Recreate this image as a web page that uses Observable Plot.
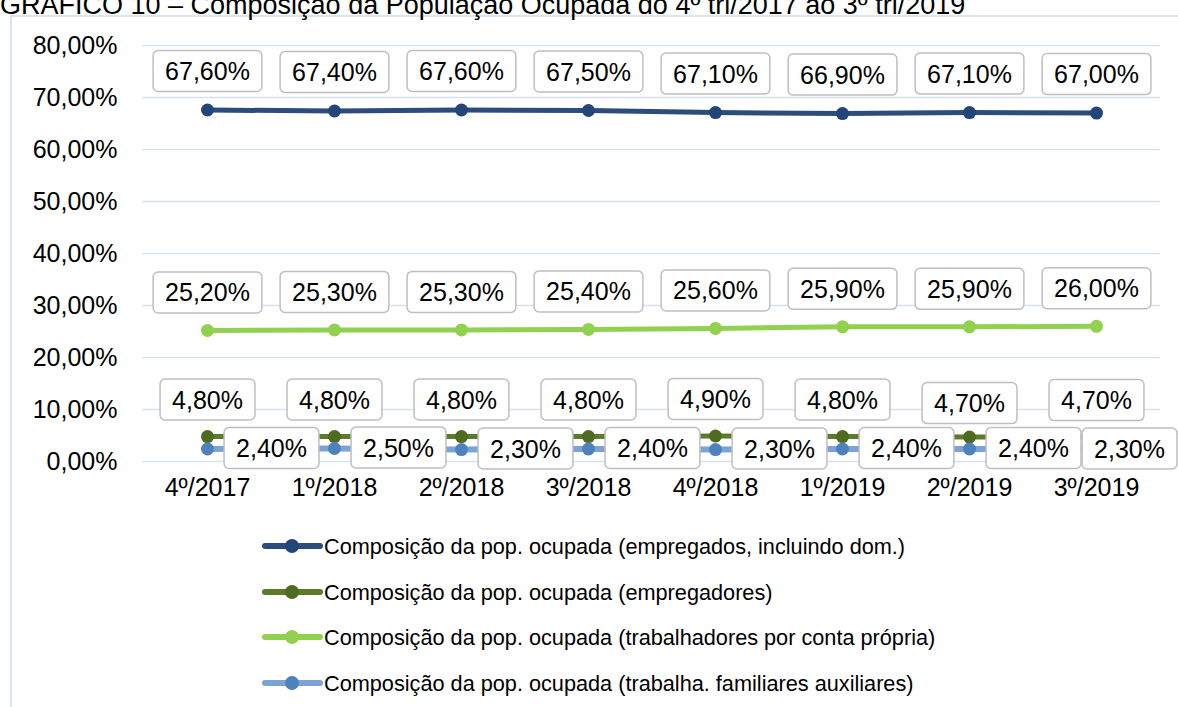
<!DOCTYPE html>
<html><head><meta charset="utf-8">
<script src="https://cdn.jsdelivr.net/npm/d3@7"></script>
<script src="https://cdn.jsdelivr.net/npm/@observablehq/plot@0.6"></script>
<style>
body{margin:0;background:#fff;}
#wrap{position:relative;width:1178px;height:707px;overflow:hidden;font-family:"Liberation Sans",Arial,sans-serif;background:#fff;}
#frame{position:absolute;left:10px;top:15px;width:1300px;height:800px;border:2px solid #DAE5F3;}
#title{position:absolute;left:0;top:-8.5px;font-size:27px;line-height:27px;white-space:nowrap;color:#000;}
#chart{position:absolute;left:0;top:0;}
#legend{position:absolute;left:0;top:520px;}
</style></head><body>
<div id="wrap">
<div id="frame"></div>
<div id="title">GRÁFICO 10 – Composição da População Ocupada do 4º tri/2017 ao 3º tri/2019</div>
<div id="chart"></div>
<div id="legend"></div>
</div>
<script>
const categories = ["4º/2017","1º/2018","2º/2018","3º/2018","4º/2018","1º/2019","2º/2019","3º/2019"];
const empregados   = [67.6, 67.4, 67.6, 67.5, 67.1, 66.9, 67.1, 67.0];
const empregadores = [4.8, 4.8, 4.8, 4.8, 4.9, 4.8, 4.7, 4.7];
const contaPropria = [25.2, 25.3, 25.3, 25.4, 25.6, 25.9, 25.9, 26.0];
const familiares   = [2.4, 2.5, 2.3, 2.4, 2.3, 2.4, 2.4, 2.3];
const seriesNames = [
  "Composição da pop. ocupada (empregados, incluindo dom.)",
  "Composição da pop. ocupada (empregadores)",
  "Composição da pop. ocupada (trabalhadores por conta própria)",
  "Composição da pop. ocupada (trabalha. familiares auxiliares)"
];
const lineColors = ["#2C4C7C", "#5B7A2A", "#92D050", "#7CA3D6"];
const dotColors  = ["#22467A", "#4E6B1F", "#92D050", "#4F81BD"];
const yTicks = [0, 10, 20, 30, 40, 50, 60, 70, 80];

const fmt = v => d3.format(".2f")(v).replace(".", ",") + "%";
const rows = (vals, k) => categories.map((c, i) => ({cat: c, value: vals[i], s: k, i}));

const dEmp = rows(empregados, 0), dEmpr = rows(empregadores, 1), dConta = rows(contaPropria, 2), dFam = rows(familiares, 3);
const allSeries = [dEmp, dEmpr, dConta, dFam];

const FONT = 25;
const lineMarks = allSeries.flatMap((d, k) => [
  Plot.line(d, {x: "cat", y: "value", stroke: lineColors[k], strokeWidth: k === 3 ? 6 : 5}),
  Plot.dot(d, {x: "cat", y: "value", r: 6.5, fill: dotColors[k], stroke: "none"})
]);
const txt = (data, o) => Plot.text(data, {x: "cat", y: "value", text: d => fmt(d.value), fontSize: FONT, fill: "#000", ...o});

const chart = Plot.plot({
  width: 1178, height: 520,
  marginLeft: 142, marginRight: 18, marginTop: 45, marginBottom: 59,
  x: {type: "point", domain: categories, padding: 0.5, label: null},
  y: {domain: [0, 80], label: null},
  style: {fontFamily: '"Liberation Sans", Arial, sans-serif', background: "transparent", overflow: "visible", color: "#000"},
  marks: [
    Plot.gridY(yTicks, {stroke: "#D5E1F2", strokeOpacity: 1, strokeWidth: 1.5}),
    Plot.axisY(yTicks, {tickSize: 0, tickPadding: 25, tickFormat: fmt, fontSize: FONT, label: null}),
    Plot.axisX({tickSize: 0, tickPadding: 17, fontSize: FONT, label: null}),
    ...lineMarks,
    txt(dEmp, {dy: -38}),
    txt(dConta, {dy: -37}),
    txt(dEmpr.filter(d => d.i !== 6), {dy: -36}),
    txt(dEmpr.filter(d => d.i === 6), {dy: -33}),
    txt(dFam.filter(d => d.i !== 7), {dx: 64}),
    txt(dFam.filter(d => d.i === 7), {dx: 33})
  ]
});
document.getElementById("chart").appendChild(chart);

// label boxes behind data labels
d3.select(chart).selectAll('g[aria-label="text"] text').each(function() {
  const b = this.getBBox();
  const padX = 12, padY = 6.5;
  const r = document.createElementNS("http://www.w3.org/2000/svg", "rect");
  r.setAttribute("x", b.x - padX);
  r.setAttribute("y", b.y - padY);
  r.setAttribute("width", b.width + 2 * padX);
  r.setAttribute("height", b.height + 2 * padY);
  r.setAttribute("rx", 5);
  r.setAttribute("fill", "#fff");
  r.setAttribute("stroke", "#BFBFBF");
  r.setAttribute("stroke-width", 1.5);
  const t = this.getAttribute("transform");
  if (t) r.setAttribute("transform", t);
  this.parentNode.insertBefore(r, this);
});

// legend
const leg = d3.select("#legend").append("svg").attr("width", 1178).attr("height", 187);
const rowY = [26, 72, 117, 163];
seriesNames.forEach((name, k) => {
  const g = leg.append("g").attr("transform", `translate(0,${rowY[k]})`);
  g.append("line").attr("x1", 265).attr("x2", 320).attr("stroke", lineColors[k]).attr("stroke-width", 6).attr("stroke-linecap", "round");
  g.append("circle").attr("cx", 292).attr("r", 7).attr("fill", dotColors[k]);
  g.append("text").attr("x", 324).attr("dy", "0.35em").attr("font-size", 21.7)
    .attr("font-family", '"Liberation Sans", Arial, sans-serif').attr("fill", "#000").text(name);
});
</script>
</body></html>
